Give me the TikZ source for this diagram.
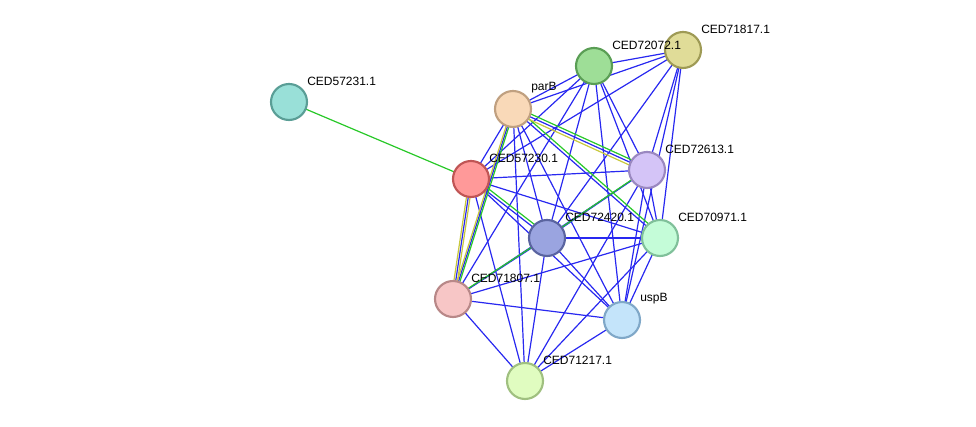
\documentclass[tikz,border=0pt]{standalone}
\usepackage{fontspec}
\setmainfont{Liberation Sans}
\usetikzlibrary{calc}
\begin{document}
\begin{tikzpicture}[x=0.75pt,y=-0.75pt,
  prot/.style={circle,draw,line width=1.6pt,minimum size=27pt,inner sep=0pt},
  lab/.style={anchor=west,font=\fontsize{9}{10}\selectfont,inner sep=0pt},
  e/.style={draw={rgb,255:red,40;green,40;blue,240},line width=0.9pt},
  eg/.style={draw={rgb,255:red,40;green,200;blue,40},line width=0.9pt},
  ey/.style={draw={rgb,255:red,200;green,200;blue,60},line width=0.9pt}]
\useasboundingbox (0,0) rectangle (976,427);
\definecolor{c1}{HTML}{99E0D8}\definecolor{c1d}{HTML}{5A9E96}
\definecolor{c2}{HTML}{F9D9B8}\definecolor{c2d}{HTML}{C0A080}
\definecolor{c3}{HTML}{9EDE97}\definecolor{c3d}{HTML}{5A9E55}
\definecolor{c4}{HTML}{E0DC98}\definecolor{c4d}{HTML}{9E9A55}
\definecolor{c5}{HTML}{FF9999}\definecolor{c5d}{HTML}{C05555}
\definecolor{c6}{HTML}{D4C4F7}\definecolor{c6d}{HTML}{9A88C0}
\definecolor{c7}{HTML}{9AA4E0}\definecolor{c7d}{HTML}{5A64A0}
\definecolor{c8}{HTML}{C4FCD8}\definecolor{c8d}{HTML}{80C09A}
\definecolor{c9}{HTML}{F7C6C6}\definecolor{c9d}{HTML}{B88888}
\definecolor{c10}{HTML}{C4E4FA}\definecolor{c10d}{HTML}{80A8C8}
\definecolor{c11}{HTML}{E0FCC0}\definecolor{c11d}{HTML}{A0C080}
\coordinate (A) at (289,102);
\coordinate (B) at (513,109);
\coordinate (C) at (594,66);
\coordinate (D) at (683,50);
\coordinate (E) at (471,179);
\coordinate (F) at (647,170);
\coordinate (G) at (547,238);
\coordinate (H) at (660,238);
\coordinate (I) at (453,299);
\coordinate (J) at (622,320);
\coordinate (K) at (525,381);
\path[eg] (A) -- (E);
\foreach \p/\q in {B/C,B/D,B/E,B/F,B/G,B/H,B/I,B/J,B/K,C/D,C/E,C/F,C/G,C/H,C/I,C/J,D/E,D/F,D/G,D/H,D/J,E/F,E/G,E/H,E/I,E/J,E/K,F/G,F/H,F/I,F/J,F/K,G/H,G/I,G/J,G/K,H/I,H/J,H/K,I/J,I/K,J/K}
  \path[e] (\p) -- (\q);
\foreach \p/\q/\s in {B/I/eg,B/F/eg,B/H/eg,G/F/eg,G/I/eg,E/I/ey,E/G/eg}
  \path[\s,transform canvas={shift={(1.6pt,1.6pt)}}] (\p) -- (\q);
\foreach \p/\q in {B/I,B/F,E/I}
  \path[ey,transform canvas={shift={(-1.6pt,-1.6pt)}}] (\p) -- (\q);
\node[prot,fill=c1,draw=c1d] (n1) at (A) {};
\node[prot,fill=c2,draw=c2d] (n2) at (B) {};
\node[prot,fill=c3,draw=c3d] (n3) at (C) {};
\node[prot,fill=c4,draw=c4d] (n4) at (D) {};
\node[prot,fill=c5,draw=c5d] (n5) at (E) {};
\node[prot,fill=c6,draw=c6d] (n6) at (F) {};
\node[prot,fill=c7,draw=c7d] (n7) at (G) {};
\node[prot,fill=c8,draw=c8d] (n8) at (H) {};
\node[prot,fill=c9,draw=c9d] (n9) at (I) {};
\node[prot,fill=c10,draw=c10d] (n10) at (J) {};
\node[prot,fill=c11,draw=c11d] (n11) at (K) {};
\node[lab] (l1) at ($(A)+(18,-21)$) {CED57231.1};
\node[lab] (l2) at ($(B)+(18,-21)$) {parB};
\node[lab] (l3) at ($(C)+(18,-21)$) {CED72072.1};
\node[lab] (l4) at ($(D)+(18,-21)$) {CED71817.1};
\node[lab] (l5) at ($(E)+(18,-21)$) {CED57230.1};
\node[lab] (l6) at ($(F)+(18,-21)$) {CED72613.1};
\node[lab] (l7) at ($(G)+(18,-21)$) {CED72420.1};
\node[lab] (l8) at ($(H)+(18,-21)$) {CED70971.1};
\node[lab] (l9) at ($(I)+(18,-21)$) {CED71807.1};
\node[lab] (l10) at ($(J)+(18,-21)$) {uspB};
\node[lab] (l11) at ($(K)+(18,-21)$) {CED71217.1};
\end{tikzpicture}
\end{document}
